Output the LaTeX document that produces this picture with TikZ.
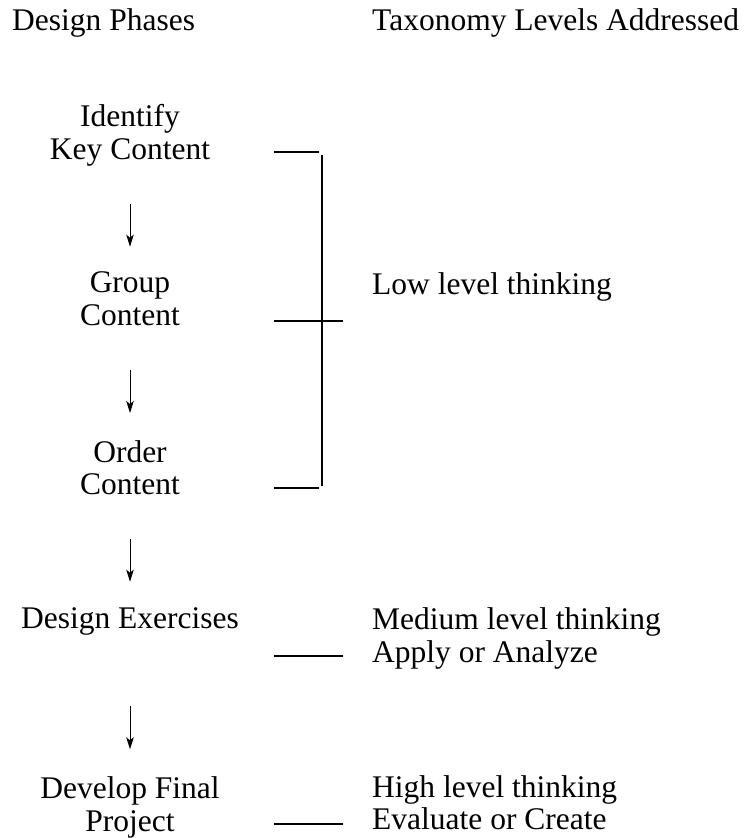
\documentclass[tikz,border=0pt]{standalone}
\usepackage{fontspec}
\setmainfont{Liberation Serif}
\usetikzlibrary{arrows.meta}

\begin{document}
\begin{tikzpicture}[
  x=1pt, y=-1pt,
  >={Stealth[length=12pt, width=7.5pt, inset=3pt]},
  every node/.style={font=\fontsize{31.5}{32.5}\selectfont, inner sep=0pt},
  head/.style  = {anchor=base west},
  phase/.style = {align=center, anchor=north},
  level/.style = {align=left, anchor=north west},
  arr/.style   = {->, line width=1pt},
  tick/.style  = {line width=1.2pt},
]
  \useasboundingbox (0,0) rectangle (746,838);
  \node[head] (ph) at (12,30.7)  {Design Phases};
  \node[head] (tx) at (372,30.7) {Taxonomy Levels Addressed};
  \node[phase] (ik) at (130,104.5) {Identify\\Key Content};
  \node[phase] (gc) at (130,271.8) {Group\\Content};
  \node[phase] (oc) at (130,440.2) {Order\\Content};
  \node[phase] (de) at (130,607.8) {Design Exercises};
  \node[phase] (fp) at (130,776.8) {Develop Final\\Project};
  \node[level] (low)  at (372,272.5) {Low level thinking};
  \node[level] (med)  at (372,607.8) {Medium level thinking\\Apply or Analyze};
  \node[level] (high) at (372,775.2) {High level thinking\\Evaluate or Create};
  \foreach \a/\b/\s/\e in {ik/gc/37.7/25.1, gc/oc/44.2/27.2, oc/de/43.8/26.1, de/fp/70.6/27.5}
    \draw[arr, shorten <=\s pt, shorten >=\e pt] (\a) -- (\b);
  % bracket for the low level
  \draw[tick] (322,155) -- (322,486);
  \foreach \y/\r in {152/319, 321/343, 488/319, 656/343, 824/343}
    \draw[tick] (274,\y) -- (\r,\y);
\end{tikzpicture}
\end{document}
